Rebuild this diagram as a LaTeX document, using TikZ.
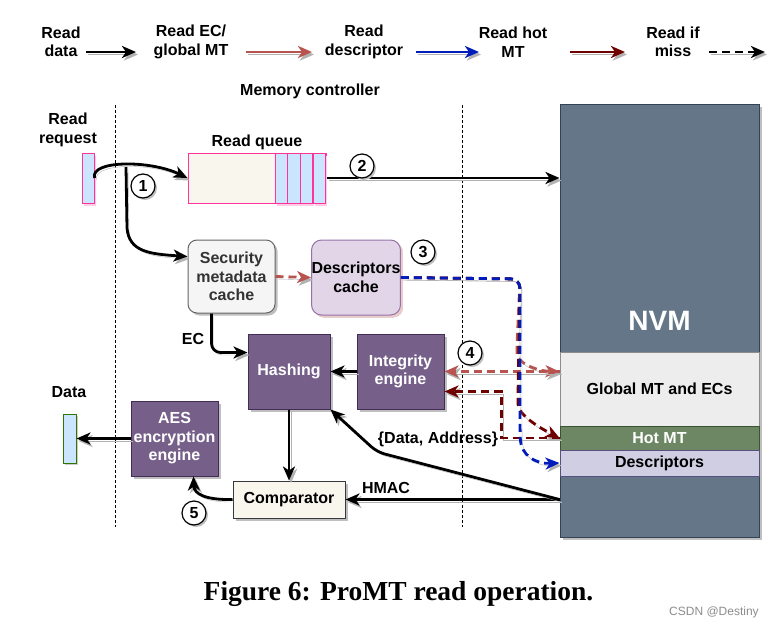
\documentclass[tikz,border=0pt]{standalone}
\usepackage{fontspec}
\setmainfont{Liberation Sans}
\newfontfamily\capfont{Liberation Serif}
\usetikzlibrary{arrows.meta,shadows}
\definecolor{nvmfill}{HTML}{647687}
\definecolor{nvmdraw}{HTML}{314354}
\definecolor{purpfill}{HTML}{76608A}
\definecolor{purpdraw}{HTML}{432D57}
\definecolor{dcfill}{HTML}{E1D5E7}
\definecolor{dcdraw}{HTML}{9673A6}
\definecolor{smcfill}{HTML}{F5F5F5}
\definecolor{smcdraw}{HTML}{666666}
\definecolor{cream}{HTML}{F9F7ED}
\definecolor{creamdraw}{HTML}{36393D}
\definecolor{hotfill}{HTML}{6D8764}
\definecolor{hotdraw}{HTML}{3A5431}
\definecolor{descfill}{HTML}{D0CEE2}
\definecolor{descdraw}{HTML}{56517E}
\definecolor{reqblue}{HTML}{CCE5FF}
\definecolor{reqpink}{HTML}{FF3399}
\definecolor{datagreen}{HTML}{2D7600}
\definecolor{ecred}{HTML}{B85450}
\definecolor{descblue}{HTML}{001DBC}
\definecolor{hotred}{HTML}{6F0000}

\begin{document}
\begin{tikzpicture}[x=1pt,y=-1pt,
  font=\fontsize{16}{18.5}\selectfont\bfseries,
  >={Stealth[length=14pt,width=12pt,inset=4pt]},
  shad/.style={preaction={draw=black!30,transform canvas={shift={(2pt,-2.5pt)}}}},
  rdata/.style={shad,->,line width=2.8pt},
  rec/.style={rdata,draw=ecred},
  rdesc/.style={rdata,draw=descblue},
  rhot/.style={rdata,draw=hotred},
  miss/.style={dash pattern=on 8pt off 5pt},
  rmiss/.style={rdata,miss},
  box/.style={draw,line width=1pt,align=center,inner sep=1pt,
    drop shadow={shadow xshift=2.5pt,shadow yshift=-2.5pt,fill=black!25,opacity=1}},
  purp/.style={box,fill=purpfill,draw=purpdraw,text=white,
    minimum width=82pt,minimum height=75pt},
  layer/.style={draw,line width=1pt,minimum width=199pt,inner sep=0pt},
  circ/.style={circle,draw,line width=1.2pt,fill=white,minimum size=24pt,inner sep=0pt,
    drop shadow={shadow xshift=2pt,shadow yshift=-2pt,fill=black!25,opacity=1}},
  slotbox/.style={draw=reqpink,fill=reqblue,line width=1pt,minimum width=12.5pt,
    minimum height=50pt,inner sep=0pt,
    drop shadow={shadow xshift=1.5pt,shadow yshift=-3pt,fill=reqpink!25,opacity=1}},
  lbl/.style={align=center}]
\useasboundingbox[fill=white] (0,0) rectangle (774,629);

\node[lbl] (l1) at (61,42) {Read\\data};
\node[lbl] (l2) at (191,42) {Read EC/\\global MT};
\node[lbl] (l3) at (364,42) {Read\\descriptor};
\node[lbl] (l4) at (513,42) {Read hot\\MT};
\node[lbl] (l5) at (673,42) {Read if\\miss};
\foreach \xa/\xb/\sty [count=\i] in {86/136/rdata,246/312/rec,416/479/rdesc,570/625/rhot,709/765/rmiss}{
  \coordinate (ls\i) at (\xa,52);
  \coordinate (le\i) at (\xb,52);
  \draw[\sty] (ls\i) -- (le\i);
}

\node (mc) at (310,91) {Memory controller};
\coordinate (d1t) at (115,105); \coordinate (d1b) at (115,527);
\coordinate (d2t) at (462,105); \coordinate (d2b) at (462,527);
\draw[line width=0.8pt,dash pattern=on 3pt off 2pt] (d1t) -- (d1b);
\draw[line width=0.8pt,dash pattern=on 3pt off 2pt] (d2t) -- (d2b);

\node[layer,fill=nvmfill,draw=nvmdraw,minimum height=433pt,text=white,
  font=\fontsize{28}{30}\selectfont\bfseries,
  drop shadow={shadow xshift=3pt,shadow yshift=-3pt,fill=black!25,opacity=1}] (nvm) at (659.5,320.5) {NVM};
\node[layer,fill=black!7,draw=black!45,minimum height=74pt] (gmt) at (659.5,389) {Global MT and ECs};
\node[layer,fill=hotfill,draw=hotdraw,minimum height=24pt,text=white] (hmt) at (659.5,438) {Hot MT};
\node[layer,fill=descfill,draw=descdraw,minimum height=26pt] (desc) at (659.5,463) {Descriptors};

\node[lbl] (rrl) at (68,130) {Read\\request};
\node[slotbox,minimum width=12pt] (rreq) at (88,178) {};
\node (rql) at (257,142) {Read queue};
\node[draw=reqpink,fill=cream,line width=1pt,minimum width=138pt,minimum height=50pt,inner sep=0pt] (rq) at (257,178) {};
\foreach \i in {0,...,3}
  \node[slotbox] (slot\i) at (281.5+12.6*\i,178) {};

\node[box,fill=smcfill,draw=smcdraw,text=black!80,rounded corners=9pt,
  minimum width=87pt,minimum height=73pt] (smc) at (231.5,276.5) {Security\\metadata\\cache};
\node[box,fill=dcfill,draw=dcdraw,rounded corners=10pt,inner sep=0pt,
  drop shadow={shadow xshift=2.5pt,shadow yshift=-2.5pt,fill=ecred!30,opacity=1},
  minimum width=88pt,minimum height=75pt] (dc) at (356,277.5) {Descriptors\\cache};
\node[purp] (hash) at (289,371.5) {Hashing};
\node[purp,minimum width=87pt] (ie) at (400.5,371.5) {Integrity\\engine};
\node[purp,minimum width=87pt] (aes) at (174.5,438.5) {AES\\encryption\\engine};
\node[box,fill=cream,draw=creamdraw,minimum width=112pt,minimum height=37pt] (cmp) at (289,499.5) {Comparator};
\node[lbl] (datal) at (69,392) {Data};
\node[draw=datagreen,fill=reqblue,line width=1pt,minimum width=13pt,minimum height=49pt,inner sep=0pt,
  drop shadow={shadow xshift=1.5pt,shadow yshift=-1.5pt,fill=black!20,opacity=1}] (datab) at (69.5,438.5) {};

\coordinate (br) at (126,167);
\draw[rdata] (rreq.east) .. controls (90,160) and (150,160) .. (rq.west);
\draw[rdata] (br) -- (127,228) .. controls (129,252) and (150,254) .. ([yshift=20pt]smc.west);
\draw[rdata] (rq.east) -- (nvm.west |- rq.east);
\draw[rdata,rounded corners=9pt] ([xshift=-20pt]smc.south) |- ([yshift=19pt]hash.west);
\node (ec) at (193,339) {EC};
\draw[rec,miss] (smc.east) -- (dc.west);

\coordinate (turn) at (520,279);
\draw[rec,miss,rounded corners=9pt] (dc.east) -- (turn) -- (517,345) .. controls (517,362) and (535,371) .. (gmt.west |- ie.east);
\draw[rec,miss] (gmt.west |- ie.east) -- (ie.east);
\draw[rhot,miss,rounded corners=9pt] (dc.east) -- (turn) -- (518,395) .. controls (518,415) and (540,428) .. (hmt.west);
\draw[rhot,miss] (hmt.west) -- ++(-58,0) |- ([yshift=-20pt]ie.east);
\draw[rdesc,miss,rounded corners=9pt] (dc.east) -- (turn) -- (520,430) .. controls (521,455) and (535,464) .. (desc.west);

\draw[rdata] (ie.west) -- (hash.east);
\draw[rdata] (hash.south) -- (cmp.north);
\draw[rdata] (nvm.west |- cmp.east) -- (cmp.east);
\node (hmac) at (386,488) {HMAC};
\draw[rdata,rounded corners=8pt] (nvm.west |- cmp.east) -- (377,452) -- (hash.south east);
\node (da) at (438,439) {\{Data, Address\}};
\draw[rdata] (cmp.west) .. controls (205,500) and (194,494) .. ([xshift=19pt]aes.south);
\draw[rdata] (aes.west) -- (datab.east);

\node[circ] (c1) at (143,186) {1};
\node[circ] (c2) at (362,166) {2};
\node[circ] (c3) at (423,252) {3};
\node[circ] (c4) at (470,353) {4};
\node[circ] (c5) at (194,513) {5};

\node[font=\capfont\bfseries\fontsize{27.5}{30}\selectfont] (cap) at (398.5,594) {Figure 6: ProMT read operation.};
\node[font=\fontsize{12}{13}\selectfont,text=black!45] (wm) at (714,612) {CSDN @Destiny};
\end{tikzpicture}
\end{document}
